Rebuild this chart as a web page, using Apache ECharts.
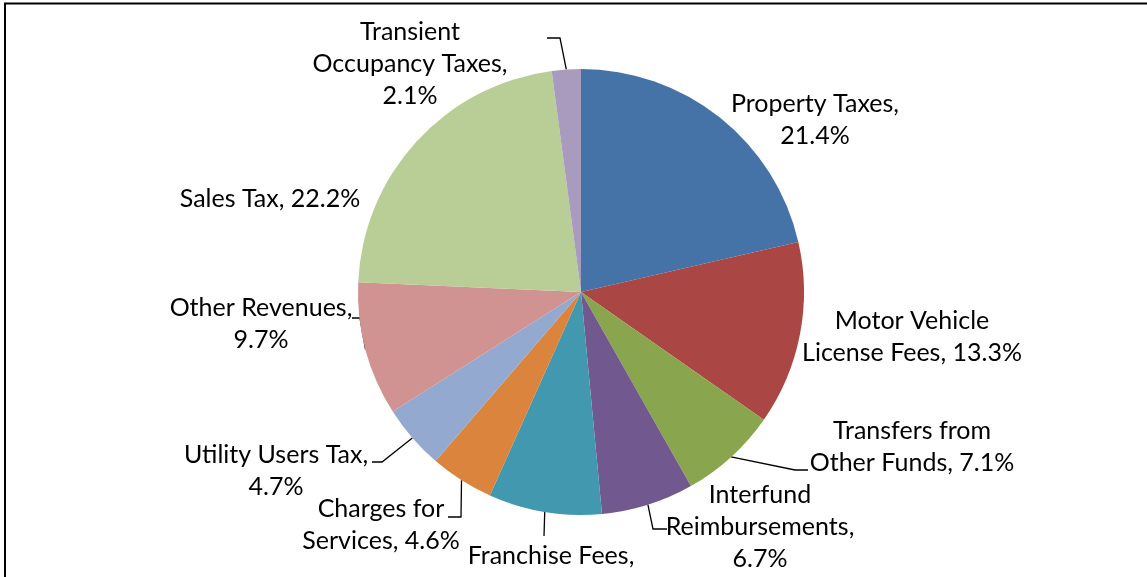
<!DOCTYPE html>
<html>
<head>
<meta charset="utf-8">
<script src="https://cdn.jsdelivr.net/npm/echarts@6/dist/echarts.min.js"></script>
<style>
    html, body { margin: 0; padding: 0; background: #fff; }
    #container { width: 1147px; height: 577px; }
</style>
</head>
<body>
<div id="container"></div>
<script>
// slices, clockwise from 12 o'clock
var categories = [
    'Property Taxes',
    'Motor Vehicle\nLicense Fees',
    'Transfers from\nOther Funds',
    'Interfund\nReimbursements',
    'Franchise Fees',
    'Charges for\nServices',
    'Utility Users Tax',
    'Other Revenues',
    'Sales Tax',
    'Transient\nOccupancy Taxes'
];
var shares = [21.4, 13.3, 7.1, 6.7, 8.2, 4.6, 4.7, 9.7, 22.2, 2.1];
// percent goes on its own line?
var valueOnNewLine = [true, false, false, true, true, false, true, true, false, true];

var colors = ['#4572A7', '#AA4643', '#89A54E', '#71588F', '#4198AF',
    '#DB843D', '#93A9CF', '#D19392', '#B9CD96', '#A99BBD'];

// label centres (px) and leader line ends, relative to label centre
var labelPos = [
    [815, 120], [912, 337], [912, 447], [760, 527], [551, 572],
    [381, 525], [276, 471], [261, 324], [270, 199], [410, 64]
];
var leaders = {
    2: {dx: -104, dy: 23, h: -13},
    3: {dx: -93, dy: 2, h: -14},
    4: {dx: -7, dy: -36, h: 0},
    5: {dx: 67, dy: -8, h: 13},
    6: {dx: 96, dy: -9, h: 10},
    7: {dx: 91, dy: -6, h: 8},
    9: {dx: 137, dy: -26, h: 13}
};

var myChart = echarts.init(document.getElementById('container'));

var data = [];
for (var i = 0; i < categories.length; i++) {
    data.push({
        name: categories[i],
        value: shares[i],
        itemStyle: {color: colors[i]},
        labelLine: {show: leaders[i] != null}
    });
}

var option = {
    animation: false,
    backgroundColor: '#fff',
    graphic: [{
        type: 'rect',
        shape: {x: 5, y: 3.5, width: 1400, height: 900},
        style: {fill: 'none', stroke: '#000', lineWidth: 2},
        silent: true
    }],
    series: [{
        type: 'pie',
        center: [581, 292],
        radius: 223,
        startAngle: 90,
        clockwise: true,
        avoidLabelOverlap: false,
        emphasis: {disabled: true},
        itemStyle: {borderWidth: 0},
        label: {
            show: true,
            position: 'outside',
            color: '#000',
            fontFamily: 'Lato, sans-serif',
            fontSize: 25,
            lineHeight: 32,
            align: 'center',
            formatter: function (p) {
                var sep = valueOnNewLine[p.dataIndex] ? ',\n' : ', ';
                return p.name + sep + p.value.toFixed(1) + '%';
            }
        },
        labelLine: {
            show: true,
            length: 10,
            length2: 10,
            lineStyle: {color: '#000', width: 1.3}
        },
        labelLayout: function (params) {
            var idx = params.dataIndex;
            var pos = labelPos[idx];
            var res = {
                x: pos[0],
                y: pos[1],
                align: 'center',
                verticalAlign: 'middle',
                hideOverlap: false,
                moveOverlap: false
            };
            var ld = leaders[idx];
            if (ld && params.labelLinePoints) {
                // start on the slice edge, end just beside the label
                var p0 = params.labelLinePoints[0];
                var p2 = [pos[0] + ld.dx, pos[1] + ld.dy];
                var p1 = [p2[0] + ld.h, p2[1]];
                res.labelLinePoints = [p0, p1, p2];
            }
            return res;
        },
        data: data
    }]
};

myChart.setOption(option);
</script>
</body>
</html>
